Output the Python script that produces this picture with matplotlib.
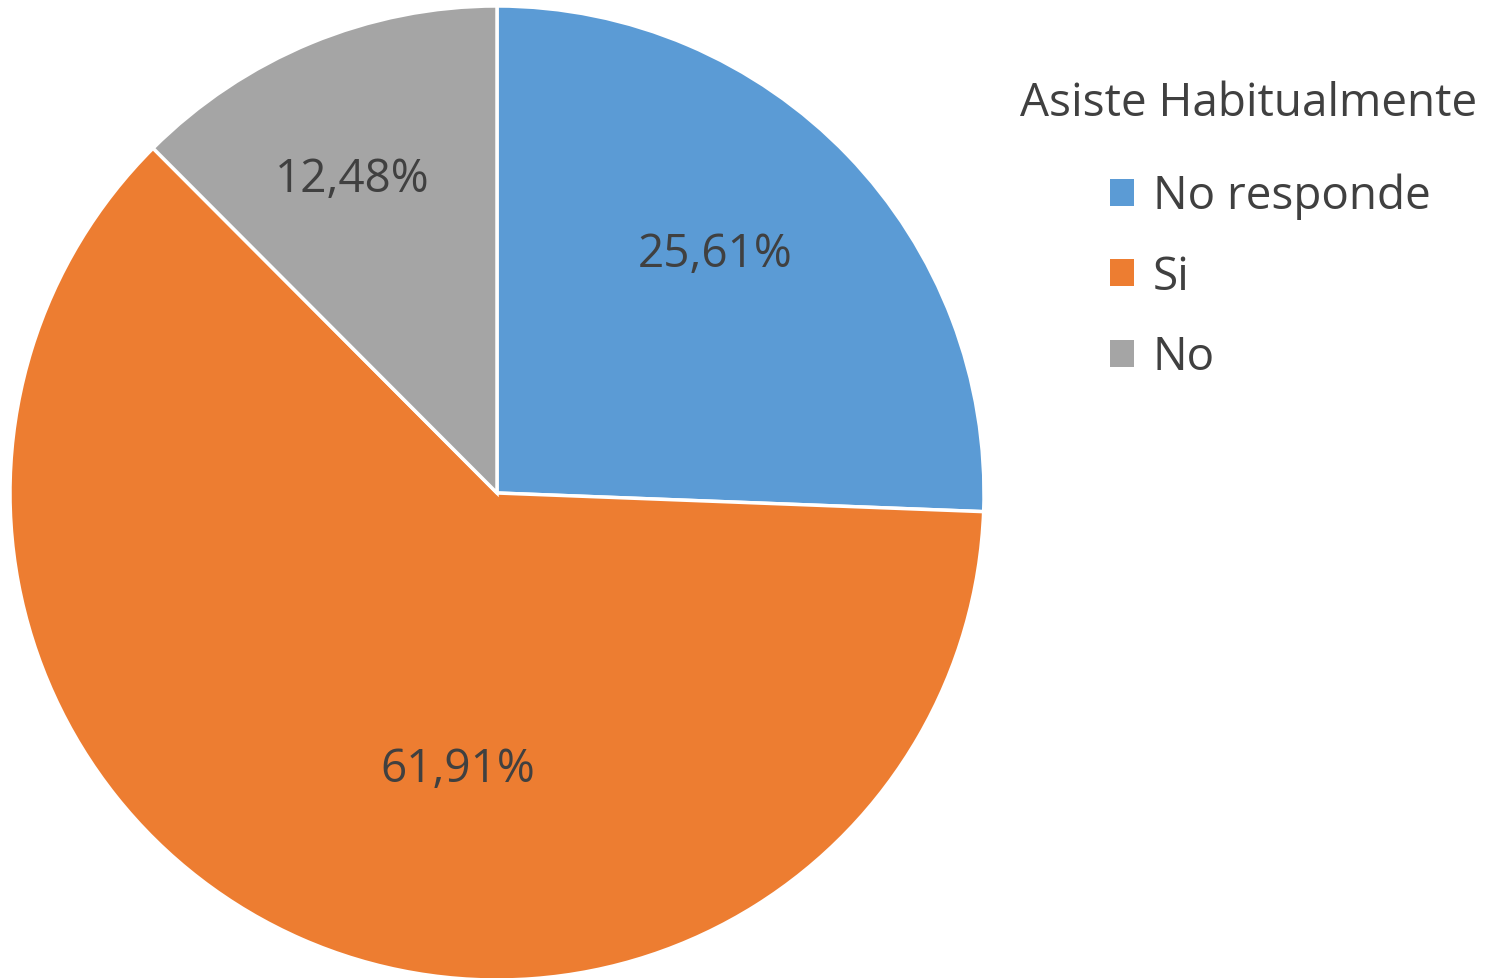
import matplotlib.pyplot as plt
from matplotlib.patches import Patch

# Data
categories = ['No responde', 'Si', 'No']
values = [25.61, 61.91, 12.48]
labels = ['25,61%', '61,91%', '12,48%']
legend_title = 'Asiste Habitualmente'

# Style
colors = ['#5B9BD5', '#ED7D31', '#A5A5A5']
text_color = '#404040'
label_pos = [(0.448, 0.491), (-0.080, -0.567), (-0.298, 0.645)]  # in units of radius

plt.rcParams['font.family'] = ['Open Sans', 'DejaVu Sans']

fig = plt.figure(figsize=(15.02, 9.79), dpi=100)
ax = fig.add_axes([10 / 1502, 1 - 981 / 979, 974 / 1502, 974 / 979])

wedges, _ = ax.pie(values, colors=colors, startangle=90, counterclock=False,
                   wedgeprops=dict(edgecolor='white', linewidth=2.5))
ax.set_xlim(-1, 1)
ax.set_ylim(-1, 1)
ax.set_aspect('equal')

for (x, y), lab in zip(label_pos, labels):
    ax.text(x, y, lab, ha='center', va='center', fontsize=33, color=text_color)

# legend title drawn separately so the gap matches
fig.text(1020 / 1502, 1 - 104 / 979, legend_title, ha='left', va='center',
         fontsize=33, color=text_color)

handles = [Patch(facecolor=c, edgecolor='none') for c in colors]
leg = fig.legend(handles, categories,
                 loc='upper left', bbox_to_anchor=(1110 / 1502, 1 - 174 / 979),
                 frameon=False, fontsize=33, borderpad=0, borderaxespad=0,
                 handlelength=0.53, handleheight=0.53, handletextpad=0.4,
                 labelspacing=0.75, labelcolor=text_color)

fig.savefig('out.png', dpi=100)
